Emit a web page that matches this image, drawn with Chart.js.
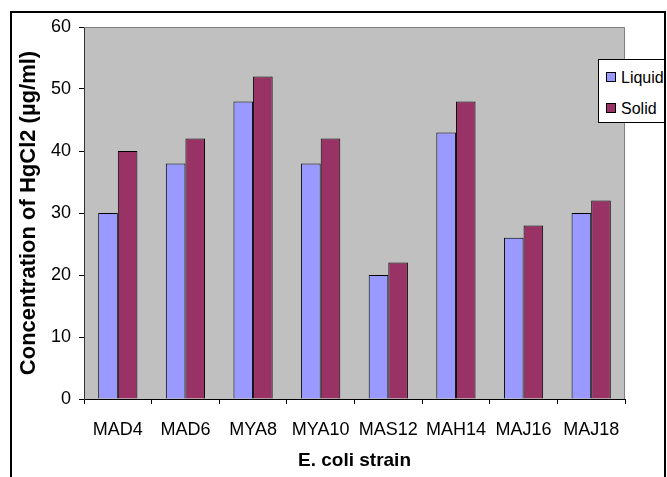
<!DOCTYPE html>
<html>
<head>
<meta charset="utf-8">
<script src="https://cdn.jsdelivr.net/npm/chart.js@4/dist/chart.umd.min.js"></script>
<style>
  html, body { margin: 0; padding: 0; background: #fff; }
  #wrap { position: relative; width: 667px; height: 477px; overflow: hidden; }
  #c { position: absolute; left: 0; top: 0; }
  #frame { position: absolute; left: 10px; top: 11px; width: 656px; height: 480px; box-sizing: border-box;
           border: 2px solid #000; border-bottom: none; overflow: hidden; pointer-events: none; }
  #legend { position: absolute; left: 586px; top: 46px; width: 80px; height: 64px; box-sizing: border-box;
            border: 1px solid #000; background: #fff; font-family: Arial, 'Liberation Sans', sans-serif; font-size: 16px; color: #000; }
  .item { position: absolute; left: 7px; white-space: nowrap; line-height: 17px; }
  .sw { display: inline-block; width: 8px; height: 8px; border: 1px solid #000; margin-right: 5px; vertical-align: 1px; }
</style>
</head>
<body>
<div id="wrap">
  <canvas id="c" width="667" height="477"></canvas>
  <div id="frame">
    <div id="legend"></div>
  </div>
</div>
<script>
const categories = ["MAD4", "MAD6", "MYA8", "MYA10", "MAS12", "MAH14", "MAJ16", "MAJ18"];
const liquidValues = [30, 38, 48, 38, 20, 43, 26, 30];
const solidValues = [40, 42, 52, 42, 22, 48, 28, 32];
const seriesNames = ["Liquid", "Solid"];
const seriesColors = ["#9999FF", "#993366"];
const yTicks = [0, 10, 20, 30, 40, 50, 60];

const FONT = "Arial, 'Liberation Sans', sans-serif";

const legendEl = document.getElementById('legend');
seriesNames.forEach((n, i) => {
  const d = document.createElement('div');
  d.className = 'item';
  d.style.top = (9 + i * 31) + 'px';
  d.innerHTML = '<span class="sw" style="background:' + seriesColors[i] + '"></span>' + n;
  legendEl.appendChild(d);
});

const plotBg = {
  id: 'plotBg',
  beforeDraw(chart) {
    const { ctx, chartArea: a } = chart;
    ctx.save();
    ctx.fillStyle = '#C0C0C0';
    ctx.fillRect(a.left, a.top, a.right - a.left, a.bottom - a.top);
    ctx.restore();
  },
  afterDatasetsDraw(chart) {
    const { ctx, chartArea: a } = chart;
    ctx.save();
    ctx.strokeStyle = '#808080';
    ctx.lineWidth = 1;
    ctx.beginPath();
    ctx.moveTo(a.left, a.top + 0.5);
    ctx.lineTo(a.right - 0.5, a.top + 0.5);
    ctx.lineTo(a.right - 0.5, a.bottom);
    ctx.stroke();
    ctx.restore();
  }
};

new Chart(document.getElementById('c'), {
  type: 'bar',
  data: {
    labels: categories,
    datasets: [
      { label: seriesNames[0], data: liquidValues, backgroundColor: seriesColors[0], borderColor: '#000', borderWidth: 1 },
      { label: seriesNames[1], data: solidValues, backgroundColor: seriesColors[1], borderColor: '#000', borderWidth: 1 }
    ]
  },
  options: {
    responsive: false,
    animation: false,
    events: [],
    datasets: { bar: { categoryPercentage: 0.58, barPercentage: 1 } },
    layout: { padding: { left: 13, top: 27, right: 42, bottom: 0 } },
    plugins: { legend: { display: false }, tooltip: { enabled: false } },
    scales: {
      x: {
        afterFit: s => { s.height = 78; },
        grid: { display: true, drawOnChartArea: false, drawTicks: true, tickLength: 5, color: '#000', offset: true },
        border: { display: true, color: '#000' },
        ticks: { color: '#000', font: { family: FONT, size: 18 }, padding: 15, maxRotation: 0, autoSkip: false },
        title: { display: true, text: 'E. coli strain', color: '#000', font: { family: FONT, size: 19, weight: 'bold' }, padding: { top: 0, bottom: 5 } }
      },
      y: {
        min: 0, max: 60,
        afterFit: s => { s.width = 71; },
        afterBuildTicks: s => { s.ticks = yTicks.map(v => ({ value: v })); },
        grid: { display: true, drawOnChartArea: false, drawTicks: true, tickLength: 5, color: '#000' },
        border: { display: true, color: '#333' },
        ticks: { color: '#000', font: { family: FONT, size: 18 }, padding: 8 },
        title: { display: true, text: 'Concentration of HgCl2 (µg/ml)', color: '#000', font: { family: FONT, size: 22, weight: 'bold' }, padding: { top: 3, bottom: 4 } }
      }
    }
  },
  plugins: [plotBg]
});
</script>
</body>
</html>
